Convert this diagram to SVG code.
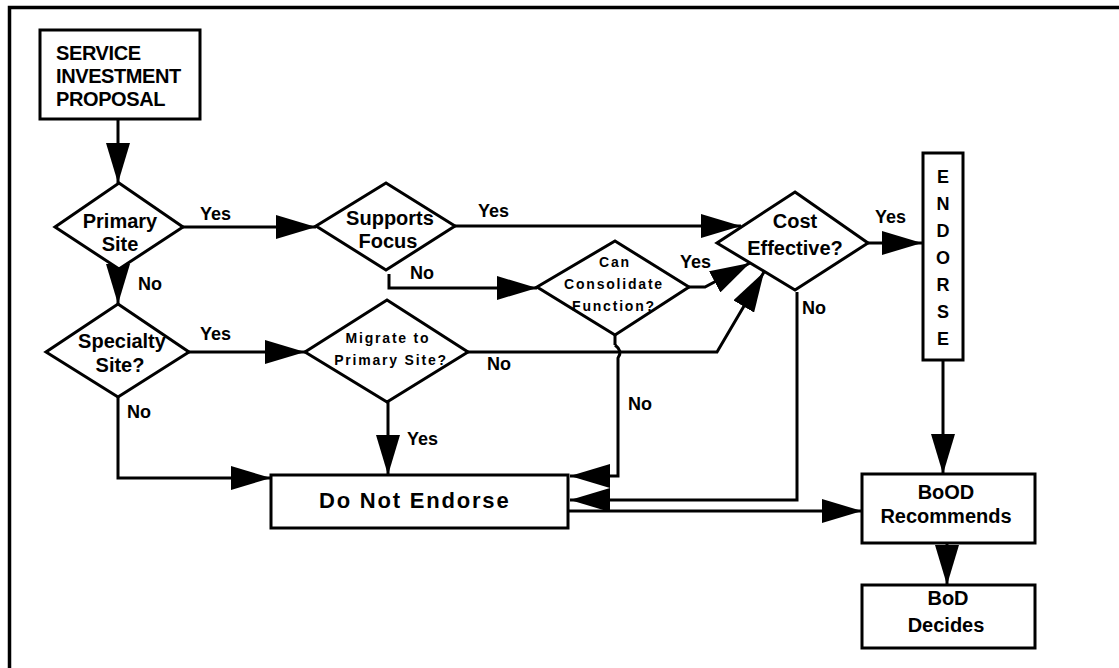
<svg xmlns="http://www.w3.org/2000/svg" width="1119" height="668" viewBox="0 0 1119 668">
<style>
text{font-family:"Liberation Sans",Arial,sans-serif;font-weight:bold;fill:#000}
.n{fill:#fff;stroke:#000;stroke-width:3}
.c{fill:none;stroke:#000;stroke-width:3;marker-end:url(#ah)}
.p{fill:none;stroke:#000;stroke-width:3}
.t20{font-size:20px;text-anchor:middle}
.lbl{font-size:18px}
.sm{font-size:14px;text-anchor:middle;letter-spacing:1.8px}
</style>
<defs>
<marker id="ah" viewBox="0 0 40 24" refX="40" refY="12" markerWidth="40" markerHeight="24" markerUnits="userSpaceOnUse" orient="auto">
<path d="M0,0 L40,12 L0,24 z" fill="#000"/>
</marker>
</defs>
<rect width="1119" height="668" fill="#fff"/>
<path d="M9.5,668 V7.5 H1119" fill="none" stroke="#000" stroke-width="3.5"/>

<g id="connectors">
<path class="c" d="M118,119 V183"/>
<path class="c" d="M183,227 H316"/>
<path class="c" d="M118,268 V304"/>
<path class="c" d="M188,352 H305"/>
<path class="c" d="M118,397 V478 H271"/>
<path class="c" d="M388,402 V475"/>
<path class="c" d="M455,226 H741"/>
<path class="c" d="M389,274 V288 H537"/>
<path class="c" d="M689,287 H705 L750,263"/>
<path class="c" d="M468,352 H717 L764,272"/>
<path class="p" d="M615,335 V345"/>
<path class="c" d="M615,345 Q623,351 618,358 V476 H570"/>
<path class="c" d="M797,292 V500 H570"/>
<path class="c" d="M568,511 H862"/>
<path class="c" d="M868,243 H922"/>
<path class="c" d="M943,360 V474"/>
<path class="c" d="M947,543 V585"/>
<text class="lbl" x="200" y="220">Yes</text>
<text class="lbl" x="138" y="290" font-size="19">No</text>
<text class="lbl" x="200" y="340">Yes</text>
<text class="lbl" x="127" y="418" font-size="19">No</text>
<text class="lbl" x="407" y="445">Yes</text>
<text class="lbl" x="478" y="217">Yes</text>
<text class="lbl" x="410" y="279" font-size="19">No</text>
<text class="lbl" x="487" y="370" font-size="19">No</text>
<text class="lbl" x="680" y="268">Yes</text>
<text class="lbl" x="628" y="410" font-size="19">No</text>
<text class="lbl" x="802" y="314" font-size="19">No</text>
<text class="lbl" x="875" y="223">Yes</text>
</g>

<g id="service-investment-proposal">
<rect class="n" x="40" y="30" width="160" height="89"/>
<text x="56" y="60" font-size="20" letter-spacing="-0.4">SERVICE</text>
<text x="56" y="83" font-size="20" letter-spacing="-0.4">INVESTMENT</text>
<text x="56" y="106" font-size="20" letter-spacing="-0.4">PROPOSAL</text>
</g>

<g id="primary-site">
<polygon class="n" points="119,183 183,227 119,269 55,227"/>
<text class="t20" x="120" y="228">Primary</text>
<text class="t20" x="120" y="251">Site</text>
</g>

<g id="specialty-site">
<polygon class="n" points="118,304 189,352 118,397 46,352"/>
<text class="t20" x="122" y="348">Specialty</text>
<text class="t20" x="120" y="372">Site?</text>
</g>

<g id="supports-focus">
<polygon class="n" points="386,183 455,226 386,270 316,226"/>
<text class="t20" x="390" y="225">Supports</text>
<text class="t20" x="388" y="248">Focus</text>
</g>

<g id="migrate-to-primary-site">
<polygon class="n" points="387,300 468,352 387,402 305,352"/>
<text class="sm" x="388" y="343">Migrate to</text>
<text class="sm" x="391" y="365">Primary Site?</text>
</g>

<g id="can-consolidate-function">
<polygon class="n" points="615,241 689,287 615,335 537,287"/>
<text class="sm" x="615" y="267">Can</text>
<text class="sm" x="614" y="289">Consolidate</text>
<text class="sm" x="614" y="311">Function?</text>
</g>

<g id="cost-effective">
<polygon class="n" points="795,192 868,243 795,290 717,243"/>
<text class="t20" x="795" y="228">Cost</text>
<text class="t20" x="795" y="255">Effective?</text>
</g>

<g id="endorse">
<rect class="n" x="923" y="153" width="40" height="207"/>
<g font-size="18" text-anchor="middle">
<text x="943" y="183">E</text>
<text x="943" y="210">N</text>
<text x="943" y="237">D</text>
<text x="943" y="264">O</text>
<text x="943" y="291">R</text>
<text x="943" y="318">S</text>
<text x="943" y="345">E</text>
</g>
</g>

<g id="do-not-endorse">
<rect class="n" x="271" y="475" width="297" height="53"/>
<text x="319" y="508" font-size="22" letter-spacing="1.8">Do Not Endorse</text>
</g>

<g id="bood-recommends">
<rect class="n" x="862" y="474" width="173" height="69"/>
<text class="t20" x="946" y="499">BoOD</text>
<text class="t20" x="946" y="523">Recommends</text>
</g>

<g id="bod-decides">
<rect class="n" x="862" y="585" width="173" height="63"/>
<text class="t20" x="948" y="605">BoD</text>
<text class="t20" x="946" y="632">Decides</text>
</g>
</svg>
